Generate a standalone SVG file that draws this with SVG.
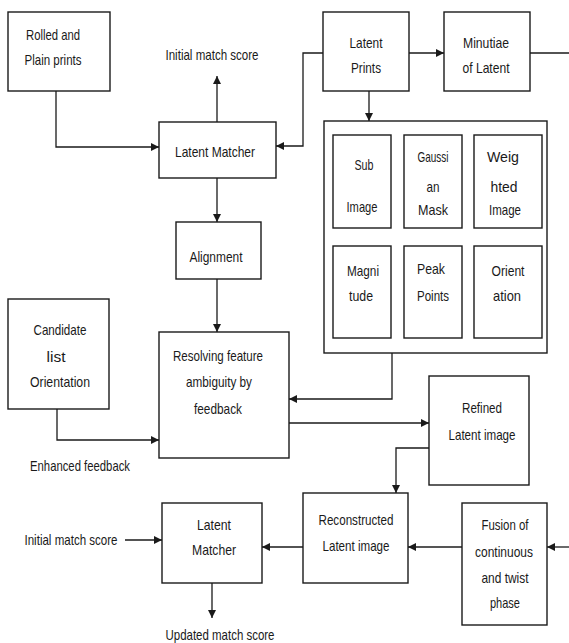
<svg xmlns="http://www.w3.org/2000/svg" width="569" height="643" viewBox="0 0 569 643">
<style>
.box{fill:#fff;stroke:#1a1a1a;stroke-width:1.4}
.ln{fill:none;stroke:#1a1a1a;stroke-width:1.3}
.ar{marker-end:url(#ah)}
text{font-family:"Liberation Sans",Arial,sans-serif;font-size:15px;fill:#1a1a1a;text-anchor:middle}
</style>
<defs>
<marker id="ah" markerWidth="8" markerHeight="8" refX="8" refY="4" orient="auto" markerUnits="userSpaceOnUse">
<path d="M0,0 L8,4 L0,8 z" fill="#1a1a1a"/>
</marker>
</defs>
<rect width="569" height="643" fill="#fff"/>
<g id="connectors">
<path class="ln ar" d="M56,91 V147 H159"/>
<path class="ln ar" d="M217,122 V76"/>
<path class="ln ar" d="M323,53 H303 V146 H276"/>
<path class="ln ar" d="M217,178 V222"/>
<path class="ln ar" d="M217,279 V332"/>
<path class="ln ar" d="M409,53 H444"/>
<path class="ln" d="M530,53 H569"/>
<path class="ln ar" d="M369,91 V121"/>
<path class="ln ar" d="M392,353 V399 H289"/>
<path class="ln ar" d="M57,409 V440 H159"/>
<path class="ln ar" d="M289,423 H429"/>
<path class="ln ar" d="M429,448 H396 V493"/>
<path class="ln ar" d="M462,547 H408" style="stroke:#555;stroke-width:2"/>
<path class="ln ar" d="M569,547 H547"/>
<path class="ln ar" d="M303,547 H262"/>
<path class="ln ar" d="M125,540 H162"/>
<path class="ln ar" d="M212,583 V618"/>
</g>
<g id="rolled">
<rect class="box" x="8" y="12" width="102" height="79"/>
<text x="53" y="40" textLength="54" lengthAdjust="spacingAndGlyphs">Rolled and</text>
<text x="53" y="65" textLength="57" lengthAdjust="spacingAndGlyphs">Plain prints</text>
</g>
<g id="initial-top">
<text x="212" y="60" textLength="93" lengthAdjust="spacingAndGlyphs">Initial match score</text>
</g>
<g id="latent-matcher">
<rect class="box" x="159" y="122" width="117" height="56"/>
<text x="215" y="157" textLength="80" lengthAdjust="spacingAndGlyphs">Latent Matcher</text>
</g>
<g id="latent-prints">
<rect class="box" x="323" y="12" width="86" height="79"/>
<text x="366" y="48" textLength="33" lengthAdjust="spacingAndGlyphs">Latent</text>
<text x="366" y="73" textLength="30" lengthAdjust="spacingAndGlyphs">Prints</text>
</g>
<g id="minutiae">
<rect class="box" x="444" y="12" width="86" height="79"/>
<text x="486" y="48" textLength="46" lengthAdjust="spacingAndGlyphs">Minutiae</text>
<text x="486" y="73" textLength="47" lengthAdjust="spacingAndGlyphs">of Latent</text>
</g>
<g id="feature-box">
<rect class="box" x="324" y="121" width="223" height="232"/>
<g id="sub-image">
<rect class="box" x="333" y="135" width="58" height="93"/>
<text x="364" y="170" textLength="19" lengthAdjust="spacingAndGlyphs">Sub</text>
<text x="362" y="212" textLength="31" lengthAdjust="spacingAndGlyphs">Image</text>
</g>
<g id="gaussian-mask">
<rect class="box" x="404" y="135" width="58" height="93"/>
<text x="433" y="162" textLength="31" lengthAdjust="spacingAndGlyphs">Gaussi</text>
<text x="433" y="192" textLength="13" lengthAdjust="spacingAndGlyphs">an</text>
<text x="433" y="215" textLength="30" lengthAdjust="spacingAndGlyphs">Mask</text>
</g>
<g id="weighted-image">
<rect class="box" x="474" y="135" width="68" height="93"/>
<text x="503" y="162" textLength="32" lengthAdjust="spacingAndGlyphs">Weig</text>
<text x="504" y="192" textLength="27" lengthAdjust="spacingAndGlyphs">hted</text>
<text x="505" y="215" textLength="32" lengthAdjust="spacingAndGlyphs">Image</text>
</g>
<g id="magnitude">
<rect class="box" x="333" y="246" width="58" height="92"/>
<text x="363" y="276" textLength="32" lengthAdjust="spacingAndGlyphs">Magni</text>
<text x="361" y="301" textLength="24" lengthAdjust="spacingAndGlyphs">tude</text>
</g>
<g id="peak-points">
<rect class="box" x="404" y="246" width="58" height="92"/>
<text x="431" y="274" textLength="28" lengthAdjust="spacingAndGlyphs">Peak</text>
<text x="433" y="301" textLength="32" lengthAdjust="spacingAndGlyphs">Points</text>
</g>
<g id="orientation">
<rect class="box" x="474" y="246" width="68" height="92"/>
<text x="508" y="276" textLength="33" lengthAdjust="spacingAndGlyphs">Orient</text>
<text x="507" y="301" textLength="28" lengthAdjust="spacingAndGlyphs">ation</text>
</g>
</g>
<g id="alignment">
<rect class="box" x="176" y="222" width="85" height="57"/>
<text x="216" y="262" textLength="53" lengthAdjust="spacingAndGlyphs">Alignment</text>
</g>
<g id="candidate">
<rect class="box" x="8" y="299" width="101" height="110"/>
<text x="60" y="335" textLength="53" lengthAdjust="spacingAndGlyphs">Candidate</text>
<text x="56" y="362" textLength="19" lengthAdjust="spacingAndGlyphs">list</text>
<text x="60" y="387" textLength="60" lengthAdjust="spacingAndGlyphs">Orientation</text>
</g>
<g id="resolving">
<rect class="box" x="159" y="332" width="130" height="126"/>
<text x="218" y="361" textLength="90" lengthAdjust="spacingAndGlyphs">Resolving feature</text>
<text x="219" y="387" textLength="66" lengthAdjust="spacingAndGlyphs">ambiguity by</text>
<text x="218" y="414" textLength="48" lengthAdjust="spacingAndGlyphs">feedback</text>
</g>
<g id="enhanced">
<text x="80" y="471" textLength="100" lengthAdjust="spacingAndGlyphs">Enhanced feedback</text>
</g>
<g id="refined">
<rect class="box" x="429" y="376" width="100" height="109"/>
<text x="482" y="413" textLength="40" lengthAdjust="spacingAndGlyphs">Refined</text>
<text x="482" y="440" textLength="67" lengthAdjust="spacingAndGlyphs">Latent image</text>
</g>
<g id="reconstructed">
<rect class="box" x="303" y="493" width="105" height="90"/>
<text x="356" y="525" textLength="75" lengthAdjust="spacingAndGlyphs">Reconstructed</text>
<text x="356" y="551" textLength="67" lengthAdjust="spacingAndGlyphs">Latent image</text>
</g>
<g id="fusion">
<rect class="box" x="462" y="503" width="85" height="122"/>
<text x="505" y="530" textLength="47" lengthAdjust="spacingAndGlyphs">Fusion of</text>
<text x="504" y="557" textLength="58" lengthAdjust="spacingAndGlyphs">continuous</text>
<text x="505" y="583" textLength="47" lengthAdjust="spacingAndGlyphs">and twist</text>
<text x="505" y="608" textLength="30" lengthAdjust="spacingAndGlyphs">phase</text>
</g>
<g id="latent-matcher-2">
<rect class="box" x="162" y="503" width="100" height="80"/>
<text x="214" y="530" textLength="34" lengthAdjust="spacingAndGlyphs">Latent</text>
<text x="214" y="555" textLength="44" lengthAdjust="spacingAndGlyphs">Matcher</text>
</g>
<g id="initial-bottom">
<text x="71" y="545" textLength="93" lengthAdjust="spacingAndGlyphs">Initial match score</text>
</g>
<g id="updated">
<text x="220" y="640" textLength="109" lengthAdjust="spacingAndGlyphs">Updated match score</text>
</g>
</svg>
